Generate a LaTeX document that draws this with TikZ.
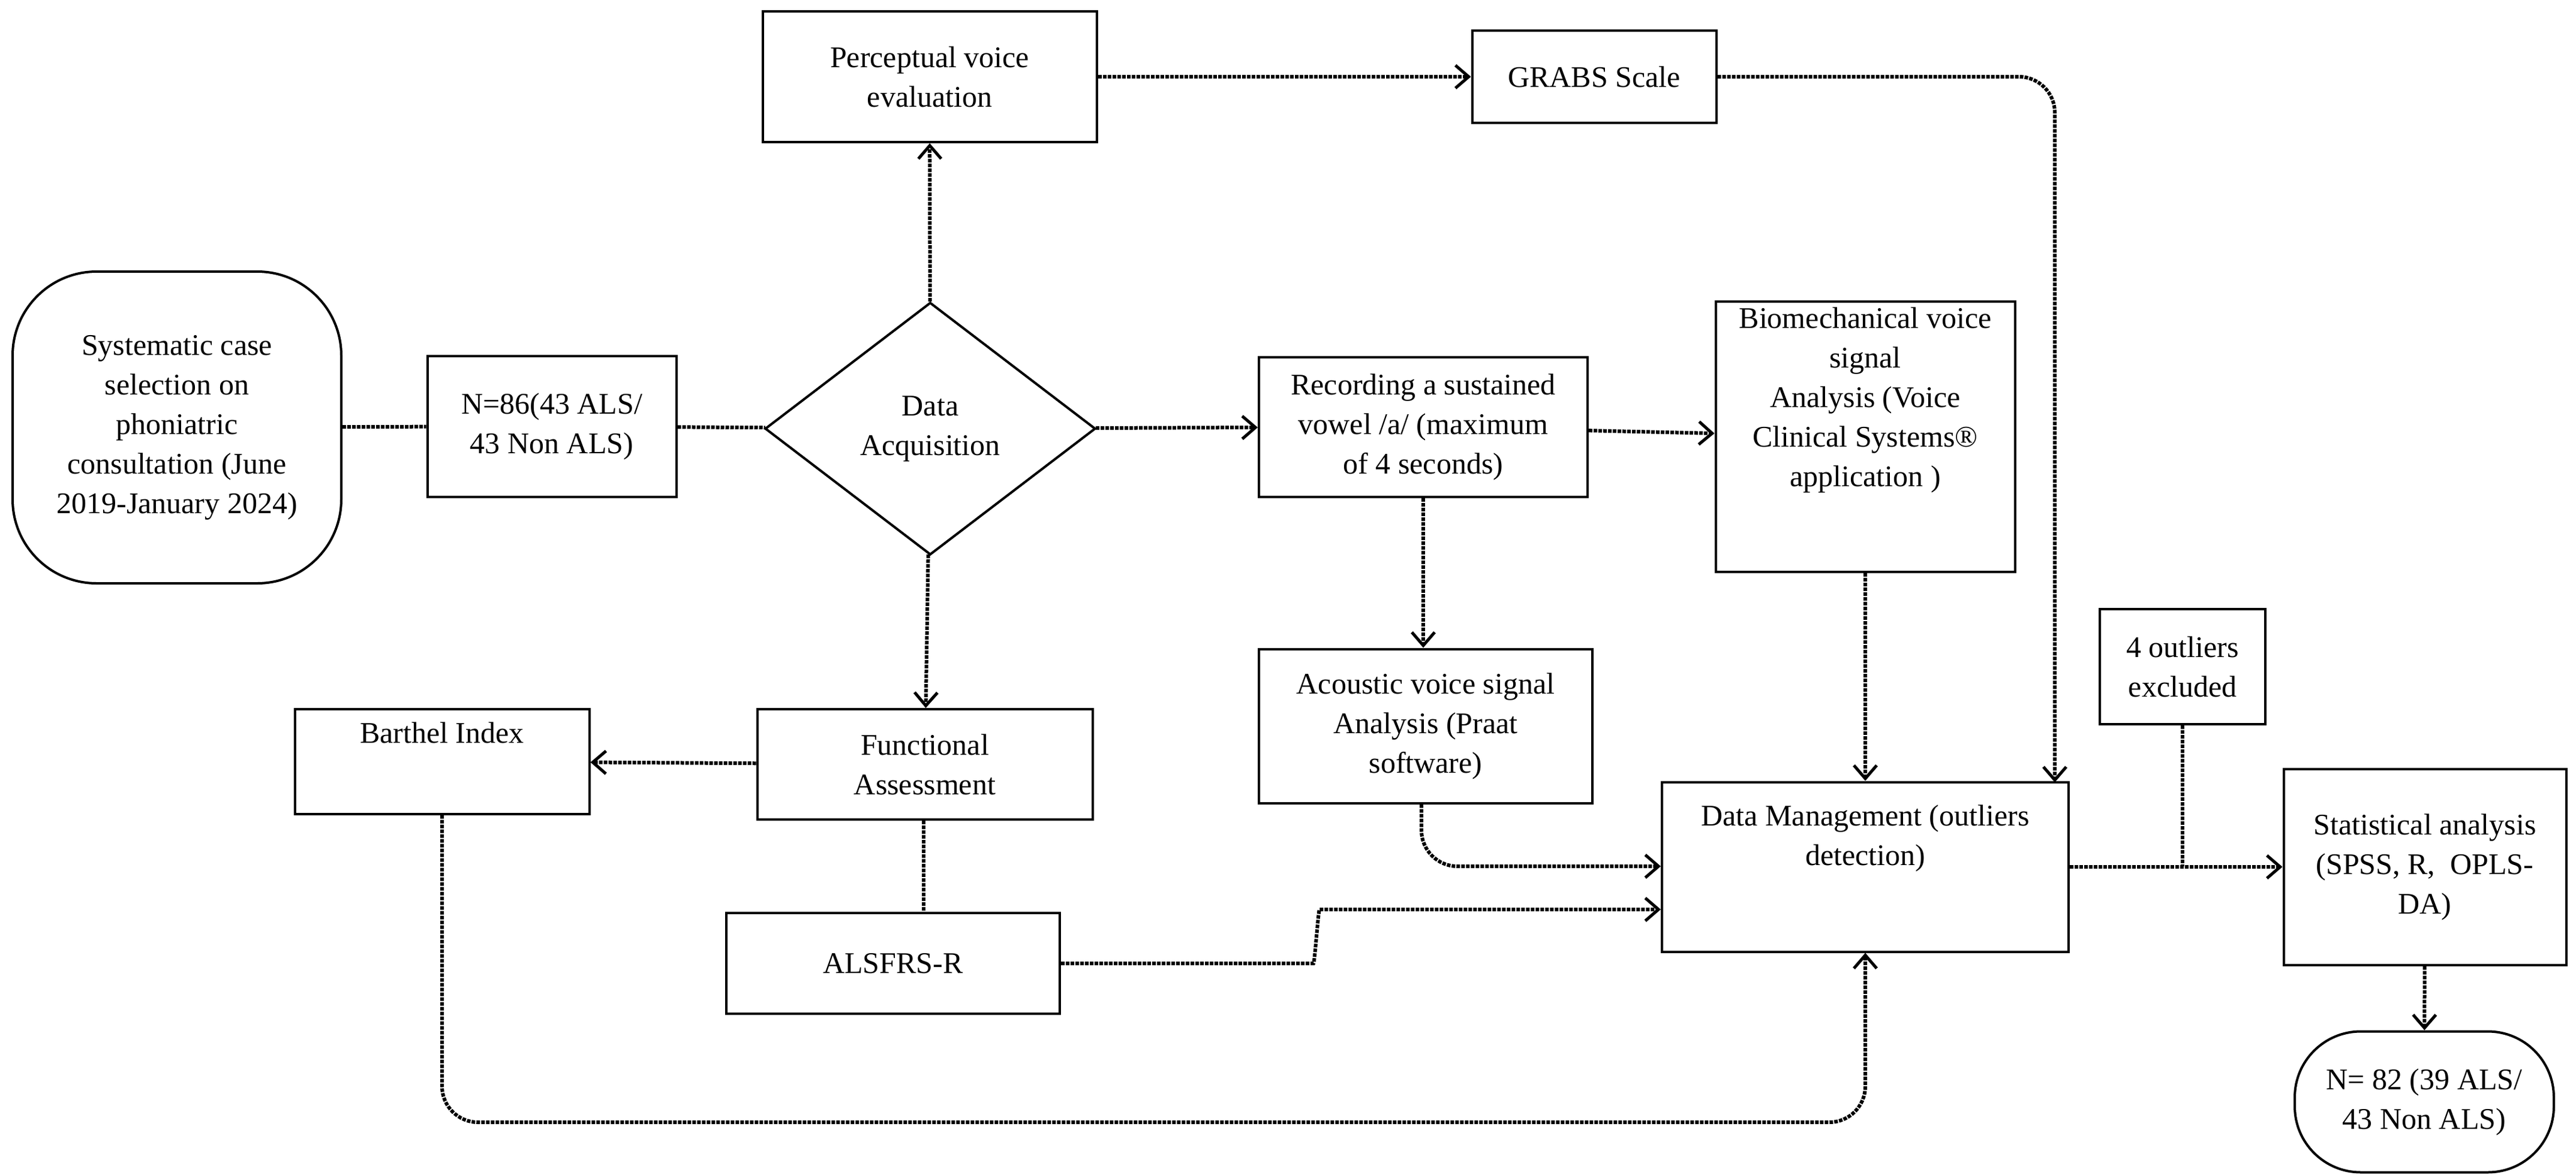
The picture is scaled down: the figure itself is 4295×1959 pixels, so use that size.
\documentclass[tikz,border=0pt]{standalone}
\usepackage{fontspec}
\setmainfont{Liberation Serif}
\usetikzlibrary{arrows.meta,shapes.geometric}
\begin{document}
\begin{tikzpicture}[x=1pt,y=-1pt,
  box/.style={draw,line width=4pt,align=center,inner sep=0pt,font=\fontsize{50}{66}\selectfont},
  conn/.style={line width=6pt,dotted,rounded corners=60pt},
  arr/.style={conn,-{Straight Barb[length=22pt,width=38pt,line width=5pt]}}]
\useasboundingbox (0,0) rectangle (4295,1959);
\node[box,rounded corners=140pt,minimum width=548pt,minimum height=520pt] (sys) at (295,713) {Systematic case\\selection on\\phoniatric\\consultation (June\\2019-January 2024)};
\node[box,minimum width=415pt,minimum height=235pt] (n86) at (920,711) {N=86(43 ALS/\\43 Non ALS)};
\node[box,diamond,shape aspect=1.31,minimum width=551pt,minimum height=421pt] (da) at (1551,715) {Data\\Acquisition};
\node[box,minimum width=557pt,minimum height=218pt] (perc) at (1550,128) {Perceptual voice\\evaluation};
\node[box,minimum width=407pt,minimum height=154pt] (grabs) at (2658,128) {GRABS Scale};
\node[box,minimum width=548pt,minimum height=233pt] (rec) at (2373,712) {Recording a sustained\\vowel /a/ (maximum\\of 4 seconds)};
\node[box,minimum width=499pt,minimum height=451pt,anchor=north] (bio) at (3110,501) {Biomechanical voice\\signal\\Analysis (Voice\\Clinical Systems®\\application )\\[66pt]};
\node[box,minimum width=556pt,minimum height=257pt] (aco) at (2377,1211) {Acoustic voice signal\\Analysis (Praat\\software)};
\node[box,minimum width=678pt,minimum height=283pt] (dm) at (3110,1446) {Data Management (outliers\\detection)\\[40pt]};
\node[box,minimum width=276pt,minimum height=192pt] (out) at (3639,1112) {4 outliers\\excluded};
\node[box,minimum width=471pt,minimum height=327pt] (stat) at (4043,1446) {Statistical analysis\\(SPSS, R,\ \ OPLS-\\DA)};
\node[box,rounded corners=110pt,minimum width=432pt,minimum height=235pt] (n82) at (4042,1838) {N= 82 (39 ALS/\\43 Non ALS)};
\node[box,minimum width=491pt,minimum height=175pt] (bar) at (737,1270) {Barthel Index\\[30pt]};
\node[box,minimum width=559pt,minimum height=184pt] (fun) at (1542,1275) {Functional\\Assessment};
\node[box,minimum width=556pt,minimum height=168pt] (als) at (1489,1607) {ALSFRS-R};
\coordinate (j) at (3639,1445);
\draw[conn] (sys) -- (n86);
\draw[conn] (n86) -- (da);
\draw[arr] (da) -- (perc);
\draw[arr] (da) -- (fun);
\draw[arr] (da) -- (rec);
\draw[arr] (perc) -- (grabs);
\draw[arr] (grabs.east) -| (3426,1305);
\draw[arr] (rec) -- (bio);
\draw[arr] (rec.south) -- (aco.north -| rec.south);
\draw[arr] (bio) -- (dm);
\draw[arr] (aco.south -| 2370,0) |- (dm.west |- 0,1445);
\draw[arr] (als.east) -- (2130,1607) to[out=0,in=180] (2260,1517) -- (dm.west |- 0,1517);
\draw[arr] (fun) -- (bar);
\draw[conn] (fun.south -| 1540,0) -- (als.north -| 1540,0);
\draw[arr] (bar.south) |- (3110,1872) -- (dm.south);
\draw[arr] (dm) -- (stat);
\draw[conn] (out) -- (j);
\draw[arr] (stat) -- (n82);
\end{tikzpicture}
\end{document}
